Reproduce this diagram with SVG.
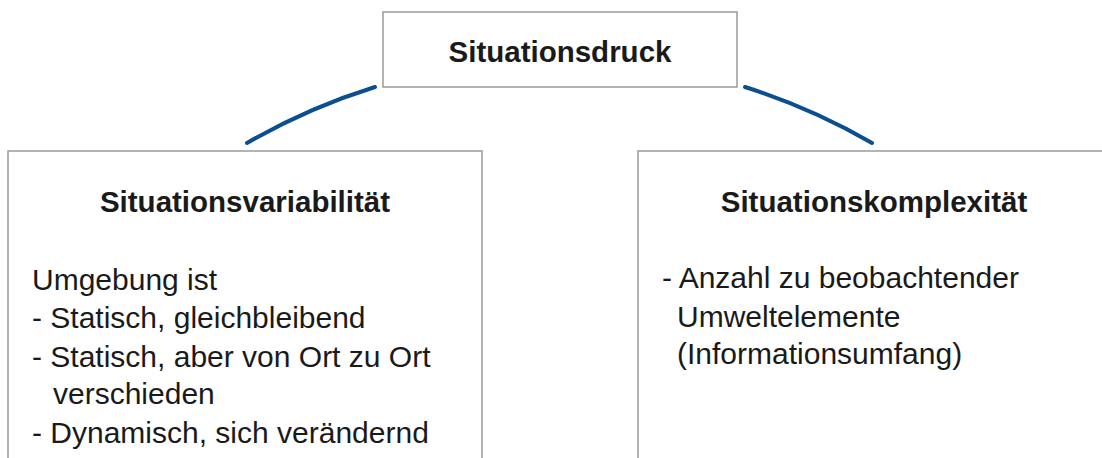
<svg xmlns="http://www.w3.org/2000/svg" width="1102" height="458" viewBox="0 0 1102 458">
  <style>
    .box { fill: #ffffff; stroke: #9a9a9a; stroke-width: 1.5; }
    .link { fill: none; stroke: #0b4f8f; stroke-width: 4; stroke-linecap: round; }
    .head { font-family: "Liberation Sans", Arial, sans-serif; font-weight: bold; font-size: 29.5px; fill: #1a1a1a; text-anchor: middle; }
    .body { font-family: "Liberation Sans", Arial, sans-serif; font-size: 30px; fill: #1a1a1a; }
  </style>
  <rect width="1102" height="458" fill="#ffffff"/>

  <!-- arcs joining the top node to the two lower nodes -->
  <g id="connectors">
    <path class="link" d="M 247 143 A 630 630 0 0 1 375 87"/>
    <path class="link" d="M 745 87 A 630 630 0 0 1 872 143"/>
  </g>

  <g id="situationsdruck">
    <rect class="box" x="383" y="12" width="354" height="75"/>
    <text class="head" x="560" y="62">Situationsdruck</text>
  </g>

  <g id="situationsvariabilitaet">
    <rect class="box" x="8" y="151" width="474" height="330"/>
    <text class="head" x="245" y="212">Situationsvariabilität</text>
    <text class="body" x="32" y="290">Umgebung ist</text>
    <text class="body" x="32" y="328">- Statisch, gleichbleibend</text>
    <text class="body" x="32" y="367">- Statisch, aber von Ort zu Ort</text>
    <text class="body" x="53" y="404">verschieden</text>
    <text class="body" x="32" y="443">- Dynamisch, sich verändernd</text>
  </g>

  <g id="situationskomplexitaet">
    <rect class="box" x="638" y="151" width="474" height="330"/>
    <text class="head" x="874" y="212">Situationskomplexität</text>
    <text class="body" x="662" y="288">- Anzahl zu beobachtender</text>
    <text class="body" x="677" y="327">Umweltelemente</text>
    <text class="body" x="677" y="364">(Informationsumfang)</text>
  </g>
</svg>
